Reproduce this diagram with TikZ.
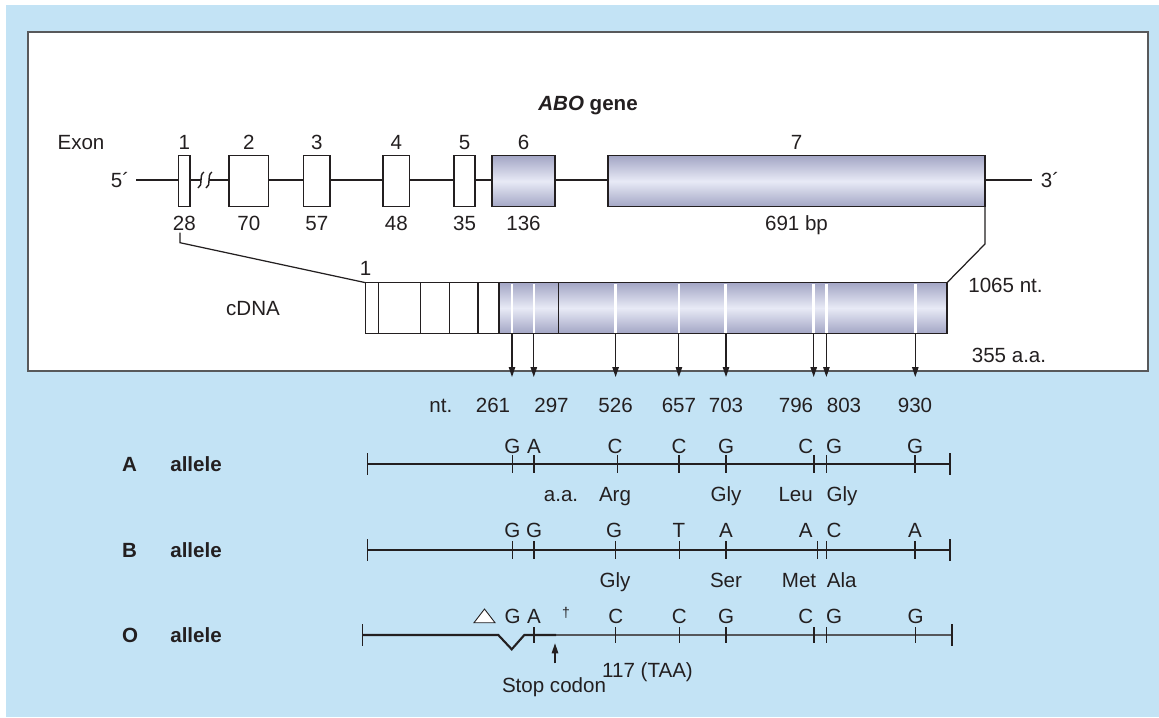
\documentclass[tikz,border=0pt]{standalone}
\usepackage{fontspec}
\setmainfont{Liberation Sans}
\usetikzlibrary{arrows.meta, positioning, calc}
\definecolor{panelblue}{HTML}{C3E3F5}
\definecolor{inkdark}{HTML}{231F20}
\definecolor{framegray}{HTML}{58595B}
\definecolor{exonlav}{HTML}{A3A6C5}
\definecolor{exonpale}{HTML}{E8EAF6}
\definecolor{stopgray}{HTML}{55575B}
\tikzset{
  lbl/.style={font=\fontsize{11.7}{14}\selectfont, text=inkdark, inner sep=0pt, text height=8.4pt, text depth=0pt},
  rowlbl/.style={lbl, font=\fontsize{11.7}{14}\selectfont\bfseries, anchor=west},
  geneline/.style={draw=inkdark, line width=0.8pt},
  exonbox/.style={draw=inkdark, line width=0.8pt, fill=white},
  exonfill/.style={draw=inkdark, line width=0.8pt, top color=exonlav, bottom color=exonlav, middle color=exonpale},
  tickmark/.style={draw=inkdark, line width=0.7pt},
  snp/.style={draw=inkdark, line width=0.6pt, -{Triangle[length=2mm,width=1.3mm]}},
}

\begin{document}
\begin{tikzpicture}[x=0.02cm, y=-0.02cm]
  \useasboundingbox (0,0) rectangle (1159,717);
  % panel and frame
  \fill[panelblue] (6,5) rectangle (1159,717);
  \draw[framegray, line width=1.3pt, fill=white] (28,32) rectangle (1148,371);

  % ABO gene
  \node[lbl, font=\fontsize{11.7}{14}\selectfont\bfseries] (title) at (588,103) {\textit{ABO} gene};
  \node[lbl] (exon) at (81,142) {Exon};
  \node[lbl] (five) at (120,180) {5´};
  \node[lbl] (three) at (1050,180) {3´};
  \draw[geneline] (136,180) -- (201,180);
  \draw[geneline] (209,180) -- (1032,180);
  \draw[geneline] (198,188) .. controls (204,185) and (198,176) .. (204,172);
  \draw[geneline] (206,188) .. controls (212,185) and (206,176) .. (212,172);
  \draw[exonbox] (178.6,155.7) rectangle (190,206.7);
  \draw[exonbox] (229,155.7) rectangle (268.6,206.7);
  \draw[exonbox] (303.6,155.7) rectangle (330,206.7);
  \draw[exonbox] (383,155.7) rectangle (409.6,206.7);
  \draw[exonbox] (454,155.7) rectangle (475,206.7);
  \draw[exonfill] (492,155.7) rectangle (555,206.7);
  \draw[exonfill] (608,155.7) rectangle (985,206.7);
  % exon numbers and sizes
  \node[lbl] (e1) at (184.3,142) {1};
  \node[lbl] (e2) at (248.8,142) {2};
  \node[lbl] (e3) at (316.8,142) {3};
  \node[lbl] (e4) at (396.3,142) {4};
  \node[lbl] (e5) at (464.5,142) {5};
  \node[lbl] (e6) at (523.5,142) {6};
  \node[lbl] (e7) at (796.5,142) {7};
  \node[lbl] (bp1) at (184.3,223) {28};
  \node[lbl] (bp2) at (248.8,223) {70};
  \node[lbl] (bp3) at (316.8,223) {57};
  \node[lbl] (bp4) at (396.3,223) {48};
  \node[lbl] (bp5) at (464.5,223) {35};
  \node[lbl] (bp6) at (523.5,223) {136};
  \node[lbl] (bp7) at (796.5,223) {691 bp};

  % cDNA
  \coordinate (cdnaNW) at (365.7,282.7);
  \coordinate (cdnaNE) at (947,282.7);
  \draw[exonbox] (cdnaNW) rectangle (499,333.3);
  \draw[exonfill] (499,282.7) rectangle (947,333.3);
  \draw[geneline] (378.3,282.7) -- (378.3,333.3);
  \draw[geneline] (420.7,282.7) -- (420.7,333.3);
  \draw[geneline] (449.7,282.7) -- (449.7,333.3);
  \draw[geneline] (478,282.7) -- (478,333.3);
  \draw[geneline] (558.3,282.7) -- (558.3,333.3);
  \draw[white, line width=1.4pt] (512,283.5) -- (512,332.5);
  \draw[white, line width=1.4pt] (533.8,283.5) -- (533.8,332.5);
  \draw[white, line width=1.4pt] (615.6,283.5) -- (615.6,332.5);
  \draw[white, line width=1.4pt] (678.9,283.5) -- (678.9,332.5);
  \draw[white, line width=1.4pt] (725.5,283.5) -- (725.5,332.5);
  \draw[white, line width=1.4pt] (813.3,283.5) -- (813.3,332.5);
  \draw[white, line width=1.4pt] (826.4,283.5) -- (826.4,332.5);
  \draw[white, line width=1.4pt] (915.3,283.5) -- (915.3,332.5);
  \node[lbl] (cdna1) at (365.7,268) {1};
  \node[lbl] (cdna) at (253,308) {cDNA};
  \node[lbl] (ntlen) at (1005.5,285) {1065 nt.};
  \node[lbl] (aalen) at (1009,355) {355 a.a.};
  % exon to cDNA
  \coordinate (x1top) at (180,232.7);
  \coordinate (x1bend) at (180,242.7);
  \coordinate (x7top) at (985,206.7);
  \coordinate (x7bend) at (985,244);
  \draw[geneline, line width=0.7pt] (x1top) -- (x1bend) -- (cdnaNW);
  \draw[geneline, line width=0.7pt] (x7top) -- (x7bend) -- (cdnaNE);

  % SNP arrows
  \coordinate (c261) at (512,333.3);   \coordinate (t261) at (512,377);
  \coordinate (c297) at (533.8,333.3); \coordinate (t297) at (533.8,377);
  \coordinate (c526) at (615.6,333.3); \coordinate (t526) at (615.6,377);
  \coordinate (c657) at (678.9,333.3); \coordinate (t657) at (678.9,377);
  \coordinate (c703) at (726,333.3);   \coordinate (t703) at (726,377);
  \coordinate (c796) at (813.7,333.3); \coordinate (t796) at (813.7,377);
  \coordinate (c803) at (826.4,333.3); \coordinate (t803) at (826.4,377);
  \coordinate (c930) at (915.3,333.3); \coordinate (t930) at (915.3,377);
  \draw[snp] (c261) -- (t261);
  \draw[snp] (c297) -- (t297);
  \draw[snp] (c526) -- (t526);
  \draw[snp] (c657) -- (t657);
  \draw[snp] (c703) -- (t703);
  \draw[snp] (c796) -- (t796);
  \draw[snp] (c803) -- (t803);
  \draw[snp] (c930) -- (t930);
  \node[lbl] (nt) at (440.8,405) {nt.};
  \node[lbl] (n261) at (493,405) {261};
  \node[lbl] (n297) at (551.5,405) {297};
  \node[lbl] (n526) at (615.6,405) {526};
  \node[lbl] (n657) at (678.9,405) {657};
  \node[lbl] (n703) at (726,405) {703};
  \node[lbl] (n796) at (796,405) {796};
  \node[lbl] (n803) at (844,405) {803};
  \node[lbl] (n930) at (915,405) {930};

  % A allele
  \node[rowlbl] (aname) at (121.7,464) {A};
  \node[rowlbl] (aallele) at (170,464) {allele};
  \draw[tickmark] (367.3,464) -- (950,464);
  \draw[tickmark] (367.3,453) -- (367.3,475);
  \draw[tickmark] (950,453) -- (950,475);
  \draw[tickmark] (512.3,455) -- (512.3,473);
  \draw[tickmark] (534,455) -- (534,473);
  \draw[tickmark] (617.3,455) -- (617.3,473);
  \draw[tickmark] (679,455) -- (679,473);
  \draw[tickmark] (726,455) -- (726,473);
  \draw[tickmark] (814,455) -- (814,473);
  \draw[tickmark] (826.7,455) -- (826.7,473);
  \draw[tickmark] (915,455) -- (915,473);
  \node[lbl] (a261) at (512.3,446) {G};
  \node[lbl] (a297) at (534,446) {A};
  \node[lbl] (a526) at (615,446) {C};
  \node[lbl] (a657) at (679,446) {C};
  \node[lbl] (a703) at (726,446) {G};
  \node[lbl] (a796) at (805.7,446) {C};
  \node[lbl] (a803) at (834,446) {G};
  \node[lbl] (a930) at (915,446) {G};
  \node[lbl] (aaa) at (561,494) {a.a.};
  \node[lbl] (aarg) at (615,494) {Arg};
  \node[lbl] (agly) at (726,494) {Gly};
  \node[lbl] (aleu) at (795.7,494) {Leu};
  \node[lbl] (agly2) at (842,494) {Gly};

  % B allele
  \node[rowlbl] (bname) at (121.7,550) {B};
  \node[rowlbl] (ballele) at (170,550) {allele};
  \draw[tickmark] (367.3,550) -- (950,550);
  \draw[tickmark] (367.3,539) -- (367.3,561);
  \draw[tickmark] (950,539) -- (950,561);
  \draw[tickmark] (512.3,541) -- (512.3,559);
  \draw[tickmark] (534,541) -- (534,559);
  \draw[tickmark] (615.7,541) -- (615.7,559);
  \draw[tickmark] (679.3,541) -- (679.3,559);
  \draw[tickmark] (726,541) -- (726,559);
  \draw[tickmark] (817.3,541) -- (817.3,559);
  \draw[tickmark] (826.7,541) -- (826.7,559);
  \draw[tickmark] (915,541) -- (915,559);
  \node[lbl] (b261) at (512.3,530) {G};
  \node[lbl] (b297) at (534,530) {G};
  \node[lbl] (b526) at (614,530) {G};
  \node[lbl] (b657) at (679,530) {T};
  \node[lbl] (b703) at (726,530) {A};
  \node[lbl] (b796) at (805.7,530) {A};
  \node[lbl] (b803) at (834,530) {C};
  \node[lbl] (b930) at (915,530) {A};
  \node[lbl] (bgly) at (615,580) {Gly};
  \node[lbl] (bser) at (726,580) {Ser};
  \node[lbl] (bmet) at (799,580) {Met};
  \node[lbl] (bala) at (841.7,580) {Ala};

  % O allele
  \node[rowlbl] (oname) at (121.7,635) {O};
  \node[rowlbl] (oallele) at (170,635) {allele};
  \draw[stopgray, line width=0.7pt] (556,635) -- (952,635);
  \draw[inkdark, line width=1.2pt] (362.7,635) -- (498.3,635) -- (511.7,649.3) -- (524.3,635) -- (556,635);
  \draw[tickmark] (362.7,624) -- (362.7,646);
  \draw[tickmark] (952,624) -- (952,646);
  \draw[tickmark] (534,627) -- (534,643);
  \draw[tickmark] (615.7,627) -- (615.7,643);
  \draw[tickmark] (679.3,627) -- (679.3,643);
  \draw[tickmark] (726,627) -- (726,643);
  \draw[tickmark] (814,627) -- (814,643);
  \draw[tickmark] (826.7,627) -- (826.7,643);
  \draw[tickmark] (915.7,627) -- (915.7,643);
  \draw[draw=inkdark, fill=white, line width=0.5pt] (474,622.7) -- (484.5,609) -- (495,622.7) -- cycle;
  \node[lbl] (o261) at (512.7,616) {G};
  \node[lbl] (o297) at (534,616) {A};
  \node[lbl, font=\fontsize{8}{9}\selectfont, text height=6pt] (dagger) at (566,612) {†};
  \node[lbl] (o526) at (615.7,616) {C};
  \node[lbl] (o657) at (679.3,616) {C};
  \node[lbl] (o703) at (726,616) {G};
  \node[lbl] (o796) at (805.7,616) {C};
  \node[lbl] (o803) at (834,616) {G};
  \node[lbl] (o930) at (915.7,616) {G};
  \coordinate (stopfoot) at (555,663.3);
  \coordinate (stophead) at (555,643.3);
  \draw[snp] (stopfoot) -- (stophead);
  \node[lbl] (stop) at (554,685) {Stop codon};
  \node[lbl] (taa) at (647.5,670) {117 (TAA)};
\end{tikzpicture}
\end{document}
